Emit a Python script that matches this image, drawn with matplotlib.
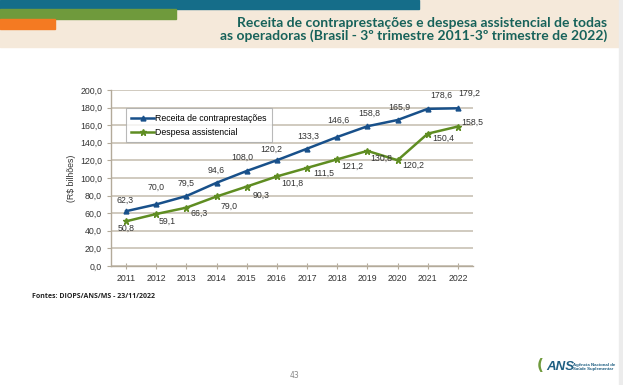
import matplotlib
matplotlib.use('Agg')
import matplotlib.pyplot as plt
from matplotlib.patches import Rectangle
from matplotlib.ticker import FuncFormatter

years = [2011, 2012, 2013, 2014, 2015, 2016, 2017, 2018, 2019, 2020, 2021, 2022]
receita = [62.3, 70.0, 79.5, 94.6, 108.0, 120.2, 133.3, 146.6, 158.8, 165.9, 178.6, 179.2]
despesa = [50.8, 59.1, 66.3, 79.0, 90.3, 101.8, 111.5, 121.2, 130.8, 120.2, 150.4, 158.5]

# label offsets in points (dx, dy)
receita_off = [(-1, 4), (0, 8), (0, 5), (0, 5), (-3, 6), (-4, 4), (1, 5), (1, 8), (1, 5), (1, 5), (10, 6), (8, 7)]
despesa_off = [(0, -5), (8, -5), (9, -4), (9, -7), (10, -6), (11, -5), (12, -4), (11, -5), (10, -5), (11, -4), (11, -3), (10, 3)]

W, H = 623, 385
fig = plt.figure(figsize=(W / 100, H / 100), dpi=100)
fig.patch.set_facecolor('white')

# header band
def px_rect(x0, y0, x1, y1, color):
    fig.patches.append(Rectangle((x0 / W, 1 - y1 / H), (x1 - x0) / W, (y1 - y0) / H,
                                 transform=fig.transFigure, color=color, zorder=0))

px_rect(0, 0, 620, 47, '#f5e9da')
px_rect(0, 0, 419, 9, '#156d89')
px_rect(0, 9, 176, 19, '#6f9a3c')
px_rect(0, 19, 55, 29, '#f47a22')
px_rect(619, 0, 623, 385, '#ececec')

title_kw = dict(ha='right', va='baseline', fontsize=10, fontweight='bold',
                color='#17625a', family='Lato')
fig.text(607 / W, 1 - 27 / H, 'Receita de contraprestações e despesa assistencial de todas', **title_kw)
fig.text(607 / W, 1 - 40 / H, 'as operadoras (Brasil - 3º trimestre 2011-3º trimestre de 2022)', **title_kw)

ax = fig.add_axes([111 / W, 1 - 266 / H, (473 - 111) / W, (266 - 90) / H])
ax.set_facecolor('white')

blue = '#18508a'
green = '#5f8d22'
ax.plot(years, receita, color=blue, lw=1.8, marker='^', ms=3.5, label='Receita de contraprestações', zorder=3)
ax.plot(years, despesa, color=green, lw=1.8, marker='*', ms=4.5, label='Despesa assistencial', zorder=3)

lab_kw = dict(textcoords='offset points', ha='center', va='center', fontsize=6.3,
              color='#333333', family='Liberation Sans')
for x, v, o in zip(years, receita, receita_off):
    ax.annotate(f'{v:.1f}'.replace('.', ','), (x, v), xytext=(o[0], o[1] + 4), **lab_kw)
for x, v, o in zip(years, despesa, despesa_off):
    ax.annotate(f'{v:.1f}'.replace('.', ','), (x, v), xytext=o, **lab_kw)

ax.set_xlim(2010.5, 2022.5)
ax.set_ylim(0, 200)
ax.set_yticks(range(0, 201, 20))
ax.yaxis.set_major_formatter(FuncFormatter(lambda v, p: f'{v:.1f}'.replace('.', ',')))
ax.set_xticks(years)
ax.grid(axis='y', color='#c4bcae', lw=1.1)
ax.set_axisbelow(True)
for s in ['top', 'right']:
    ax.spines[s].set_visible(False)
for s in ['left', 'bottom']:
    ax.spines[s].set_color('#b3aa9a')
    ax.spines[s].set_linewidth(1.0)
ax.tick_params(axis='both', labelsize=6.3, colors='#b3aa9a', labelcolor='#333333', length=3)
ax.tick_params(axis='x', direction='inout', length=4)
for t in ax.get_xticklabels() + ax.get_yticklabels():
    t.set_family('Liberation Sans')
ax.set_ylabel('(R$ bilhões)', fontsize=6.3, color='#333333', family='Liberation Sans', labelpad=3)

leg = ax.legend(loc='upper left', bbox_to_anchor=(0.03, 0.92), fontsize=6.3, frameon=True,
                fancybox=False, edgecolor='#a8a8a8', borderpad=0.6, handlelength=2.6,
                handletextpad=0.1, labelspacing=0.6, prop={'family': 'Liberation Sans', 'size': 6.3})
leg.get_frame().set_linewidth(0.8)

fig.text(32 / W, 1 - 297 / H, 'Fontes: DIOPS/ANS/MS - 23/11/2022', fontsize=5, fontweight='bold',
         va='center', family='Open Sans', color='#222222')
fig.text(294 / W, 1 - 375 / H, '43', fontsize=5.5, color='#888888', ha='center', va='center')

# logo
fig.text(537 / W, 1 - 366 / H, '(', fontsize=11, fontweight='bold', color='#6f9a3c',
         ha='left', va='center')
fig.text(546 / W, 1 - 367 / H, 'ANS', fontsize=9.5, fontweight='bold', style='italic',
         color='#1f5f82', ha='left', va='center', family='Liberation Sans')
fig.text(573 / W, 1 - 367 / H, 'Agência Nacional de\nSaúde Suplementar', fontsize=3.2,
         color='#1f5f82', ha='left', va='center', linespacing=1.0, family='Liberation Sans',
         fontweight='bold')

fig.savefig('out.png', dpi=100)
